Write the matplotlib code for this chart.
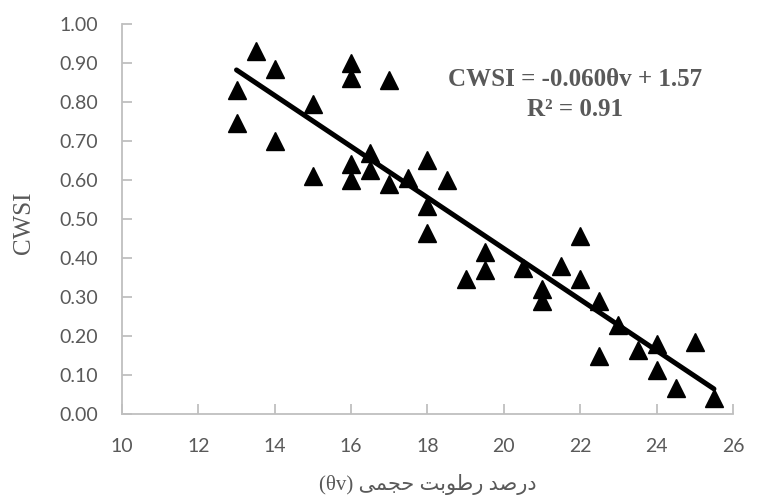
import matplotlib.pyplot as plt
import numpy as np

# soil moisture (theta v) and CWSI
theta = [13, 13, 13.5, 14, 14, 15, 15, 16, 16, 16, 16, 16.5, 16.5, 17, 17, 17.5,
         18, 18, 18, 18.5, 19, 19.5, 19.5, 20.5, 21, 21, 21.5, 22, 22, 22.5, 22.5,
         23, 23.5, 24, 24, 24.5, 25, 25.5]
cwsi = [0.83, 0.745, 0.93, 0.885, 0.70, 0.795, 0.61, 0.90, 0.86, 0.64, 0.60, 0.67, 0.625,
        0.855, 0.59, 0.605, 0.652, 0.532, 0.465, 0.60, 0.345, 0.415, 0.37, 0.375, 0.32,
        0.29, 0.38, 0.455, 0.345, 0.29, 0.148, 0.227, 0.163, 0.18, 0.112, 0.066, 0.185, 0.04]

xticks = [10, 12, 14, 16, 18, 20, 22, 24, 26]
yticks = [0.0, 0.1, 0.2, 0.3, 0.4, 0.5, 0.6, 0.7, 0.8, 0.9, 1.0]

grey = '#595959'
axis_grey = '#BFBFBF'

fig = plt.figure(figsize=(7.62, 4.97), dpi=100)
ax = fig.add_axes([0.160, 0.167, 0.802, 0.785])

ax.plot(theta, cwsi, linestyle='none', marker='^', markersize=13, color='black')

# linear trendline over the data range
k, b = np.polyfit(theta, cwsi, 1)
xs = np.array([min(theta), max(theta)])
ax.plot(xs, k * xs + b, color='black', linewidth=3.6, solid_capstyle='round')

ax.set_xlim(10, 26)
ax.set_ylim(0, 1)
ax.set_xticks(xticks)
ax.set_yticks(yticks)
ax.set_xticklabels([str(v) for v in xticks])
ax.set_yticklabels(['%.2f' % v for v in yticks])

for s in ['top', 'right']:
    ax.spines[s].set_visible(False)
for s in ['left', 'bottom']:
    ax.spines[s].set_color(axis_grey)
    ax.spines[s].set_linewidth(1.3)
ax.tick_params(direction='in', length=7, width=1.3, color=axis_grey,
               labelcolor=grey, labelsize=14)
ax.tick_params(axis='y', pad=17)
ax.tick_params(axis='x', pad=17)
for lab in ax.get_xticklabels() + ax.get_yticklabels():
    lab.set_fontfamily('Lato')

ax.text(21.86, 0.857, 'CWSI = -0.060\u03b8v + 1.57', ha='center', va='center',
        fontsize=18, fontweight='bold', color=grey, family='Liberation Serif')
ax.text(21.86, 0.78, 'R\u00b2 = 0.91', ha='center', va='center',
        fontsize=18, fontweight='bold', color=grey, family='Liberation Serif')

ax.set_ylabel('CWSI', fontsize=18, color=grey, family='Liberation Serif')
ax.yaxis.set_label_coords(-0.143, 0.49)

# Persian label, shaped by hand into visual order
xlab = ('(\u03b8v) '
        '\ufef0\ufee4\ufea0\ufea3 '
        '\ufe96\ufe91\ufeee\ufec3\ufead '
        '\ufeaa\ufebb\ufead\ufea9')
ax.set_xlabel(xlab, fontsize=15, color=grey, family=['Liberation Serif', 'DejaVu Sans'])
ax.xaxis.label.set_verticalalignment('center')
ax.xaxis.set_label_coords(0.5, -0.18)

fig.savefig('out.png', dpi=100)
